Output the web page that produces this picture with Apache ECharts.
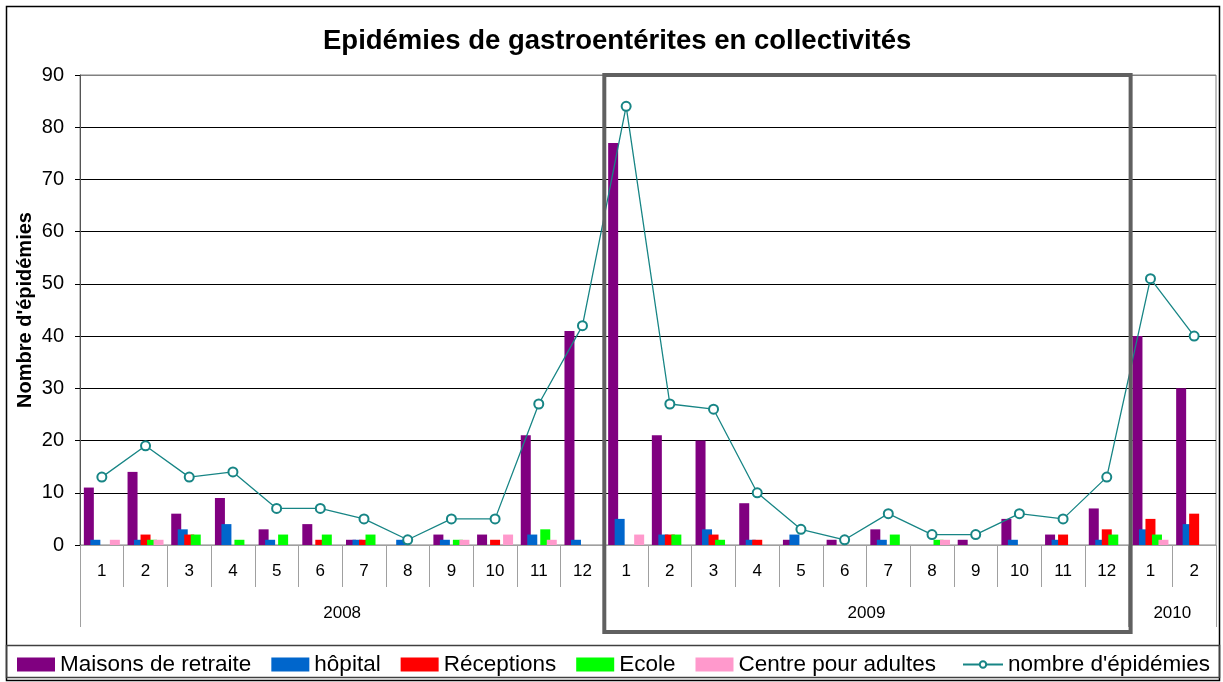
<!DOCTYPE html>
<html>
<head>
<meta charset="utf-8">
<script src="https://cdn.jsdelivr.net/npm/echarts@6/dist/echarts.min.js"></script>
<style>
  html, body { margin: 0; padding: 0; background: #ffffff; }
  #chart { width: 1223px; height: 682px; }
</style>
</head>
<body>
<div id="chart"></div>
<script>
// Monthly outbreaks of gastroenteritis by type of institution, 2008 – 2010
const months = ['1','2','3','4','5','6','7','8','9','10','11','12',
                '1','2','3','4','5','6','7','8','9','10','11','12',
                '1','2'];
const years = ['2008', '2009', '2010'];
const monthsPerYear = [12, 12, 2];

const maisonsRetraite = [11,14,6,9,3,4,1,0,2,2,21,41, 77,21,20,8,1,1,3,0,1,5,2,7, 40,30];
const hopital         = [1,1,3,4,1,0,1,1,1,0,2,1,     5,2,3,1,2,0,1,0,0,1,1,1,     3,4];
const receptions      = [0,2,2,0,0,1,1,0,0,1,0,0,     0,2,2,1,0,0,0,0,0,0,2,3,     5,6];
const ecole           = [0,1,2,1,2,2,2,0,1,0,3,0,     0,2,1,0,0,0,2,1,0,0,0,2,     2,0];
const centreAdultes   = [1,1,0,0,0,0,0,0,1,2,1,0,     2,0,0,0,0,0,0,1,0,0,0,0,     1,0];
const nombreEpidemies = [13,19,13,14,7,7,5,1,5,5,27,42, 84,27,26,10,3,1,6,2,2,6,5,13, 51,40];

// year boundaries and label centres on the month scale
const yearBounds = [0];
monthsPerYear.forEach(n => yearBounds.push(yearBounds[yearBounds.length - 1] + n));
const yearCenters = monthsPerYear.map((n, i) => yearBounds[i] + n / 2);

const FONT = 'Liberation Sans, Arial, sans-serif';
const LINE_NAME = "nombre d'épidémies";
const TEAL = '#178585';
const barSeries = [
  ['Maisons de retraite', maisonsRetraite, '#800080'],
  ['hôpital', hopital, '#0066CC'],
  ['Réceptions', receptions, '#FF0000'],
  ['Ecole', ecole, '#00FF00'],
  ['Centre pour adultes', centreAdultes, '#FF99CC']
];

const chart = echarts.init(document.getElementById('chart'), null, { renderer: 'canvas' });

const legendText = { fontFamily: FONT, fontSize: 22.5, color: '#000' };

const option = {
  backgroundColor: '#ffffff',
  animation: false,
  textStyle: { fontFamily: FONT },
  title: {
    text: 'Epidémies de gastroentérites en collectivités',
    left: 318,
    top: 22,
    textStyle: { fontFamily: FONT, fontSize: 27.5, fontWeight: 'bold', color: '#000' }
  },
  legend: [
    {
      left: 12,
      top: 648,
      itemWidth: 38,
      itemHeight: 14,
      itemGap: 20,
      textStyle: legendText,
      data: barSeries.map(s => ({ name: s[0], icon: 'rect' }))
    },
    {
      left: 957,
      top: 648,
      itemWidth: 40,
      itemHeight: 8,
      textStyle: legendText,
      data: [{ name: LINE_NAME }]
    }
  ],
  grid: {
    left: 80, right: 7, top: 75, bottom: 137,
    show: true, borderColor: '#808080', borderWidth: 1, backgroundColor: '#ffffff'
  },
  xAxis: [
    {
      type: 'category',
      data: months,
      boundaryGap: true,
      axisLine: { show: true, lineStyle: { color: '#a0a0a0', width: 1 } },
      axisTick: { show: true, interval: 0, length: 42, lineStyle: { color: '#a0a0a0' } },
      axisLabel: { interval: 0, margin: 18, fontFamily: FONT, fontSize: 17, color: '#000' },
      splitLine: { show: false }
    },
    {
      type: 'value',
      min: 0,
      max: yearBounds[yearBounds.length - 1],
      position: 'bottom',
      offset: 0,
      axisLine: { show: false },
      axisTick: { show: true, customValues: yearBounds, length: 82, lineStyle: { color: '#a0a0a0' } },
      axisLabel: {
        customValues: yearCenters,
        margin: 60,
        fontFamily: FONT, fontSize: 17, color: '#000',
        formatter: v => years[yearCenters.indexOf(v)] || ''
      },
      splitLine: { show: false }
    }
  ],
  yAxis: {
    type: 'value',
    min: 0, max: 90, interval: 10,
    name: "Nombre d'épidémies",
    nameLocation: 'middle',
    nameRotate: 90,
    nameGap: 45,
    nameMoveOverlap: false,
    nameTextStyle: { fontFamily: FONT, fontSize: 20, fontWeight: 'bold', color: '#000' },
    axisLine: { show: true, lineStyle: { color: '#555555', width: 1 } },
    axisTick: { show: true, inside: false, length: 5, lineStyle: { color: '#000' } },
    axisLabel: { margin: 16, fontFamily: FONT, fontSize: 20, color: '#000' },
    splitLine: {
      show: true,
      lineStyle: {
        width: 1,
        color: ['#a0a0a0', '#000', '#000', '#000', '#000', '#000', '#000', '#000', '#000', '#808080']
      }
    }
  },
  series: barSeries.map(s => ({
    name: s[0],
    type: 'bar',
    xAxisIndex: 0,
    data: s[1],
    barWidth: 10,
    barGap: '-35%',
    itemStyle: { color: s[2] }
  })).concat([{
    name: LINE_NAME,
    type: 'line',
    xAxisIndex: 0,
    data: nombreEpidemies,
    symbol: 'emptyCircle',
    symbolSize: 9,
    lineStyle: { color: TEAL, width: 1.3 },
    itemStyle: { color: TEAL, borderWidth: 1.5 },
    z: 5
  }])
};

chart.setOption(option);

// frame, legend box and the 2009 highlight box
function drawDecorations() {
  const xLeft2009 = chart.convertToPixel({ xAxisIndex: 1 }, yearBounds[1]);
  const xRight2009 = chart.convertToPixel({ xAxisIndex: 1 }, yearBounds[2]);
  const yTop = chart.convertToPixel({ yAxisIndex: 0 }, 90);
  chart.setOption({
    graphic: [
      { type: 'rect', silent: true, z: 100,
        shape: { x: 6.5, y: 6.5, width: 1213, height: 674 },
        style: { fill: null, stroke: '#000', lineWidth: 1.5 } },
      { type: 'rect', silent: true, z: 100,
        shape: { x: 6.5, y: 645.5, width: 1213, height: 32 },
        style: { fill: null, stroke: '#404040', lineWidth: 1.5 } },
      { type: 'rect', silent: true, z: 100,
        shape: { x: xLeft2009, y: yTop, width: xRight2009 - xLeft2009 + 2, height: 632 - yTop },
        style: { fill: null, stroke: '#606060', lineWidth: 4 } }
    ]
  });
}
drawDecorations();
</script>
</body>
</html>
